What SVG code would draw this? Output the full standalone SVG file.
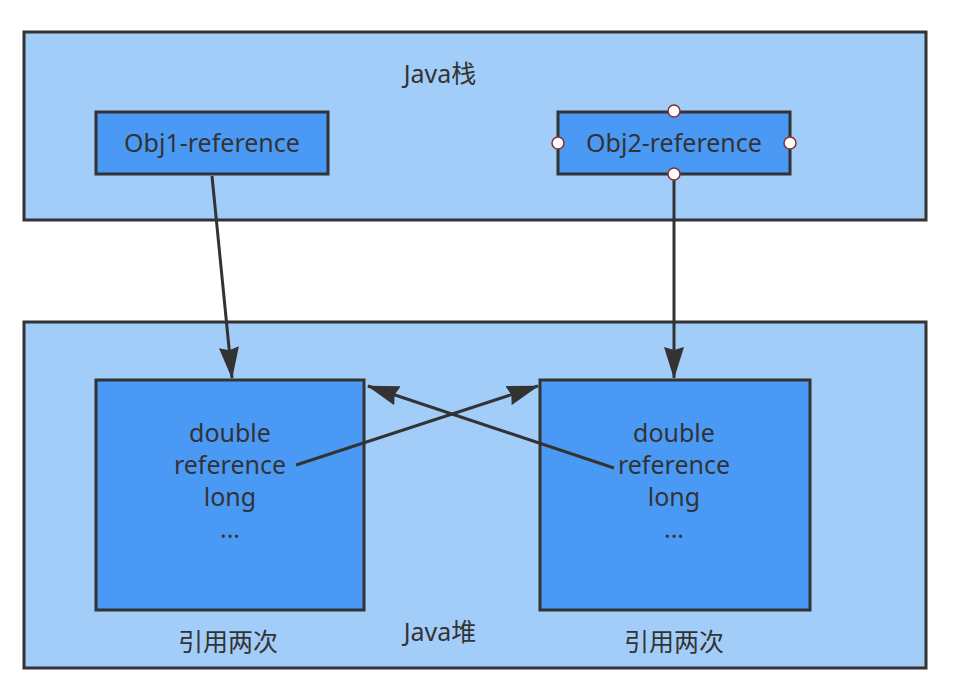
<svg xmlns="http://www.w3.org/2000/svg" width="954" height="692" viewBox="0 0 954 692">
<style>
.outer{fill:#a3cdf9;stroke:#333;stroke-width:3}
.inner{fill:#4a9af5;stroke:#333;stroke-width:3}
.t{font-family:"Noto Sans","Noto Sans CJK SC",sans-serif;font-size:25px;fill:#333;text-anchor:middle}
.c{stroke:#333;stroke-width:3;fill:none;marker-end:url(#ah)}
.pt{fill:#fff;stroke:#8b2e2e;stroke-width:1.5}
</style>
<defs>
<marker id="ah" viewBox="0 0 32 20" refX="31" refY="10" markerWidth="32" markerHeight="20" orient="auto" markerUnits="userSpaceOnUse">
<path d="M0,0 L32,10 L0,20 L3,10 z" fill="#333"/>
</marker>
</defs>
<g id="stack">
<rect class="outer" x="24" y="32" width="902" height="188"/>
<text class="t" x="440" y="83">Java栈</text>
</g>
<g id="heap">
<rect class="outer" x="24" y="322" width="902" height="346"/>
<text class="t" x="440" y="641">Java堆</text>
</g>
<g id="obj1ref">
<rect class="inner" x="96" y="112" width="232" height="62"/>
<text class="t" x="212" y="152">Obj1-reference</text>
</g>
<g id="obj2ref">
<rect class="inner" x="558" y="112" width="232" height="62"/>
<text class="t" x="674" y="152">Obj2-reference</text>
</g>
<g id="obj1">
<rect class="inner" x="96" y="380" width="268" height="230"/>
<text class="t" x="230" y="442">double</text>
<text class="t" x="230" y="474">reference</text>
<text class="t" x="230" y="506">long</text>
<text class="t" x="230" y="538">...</text>
<text class="t" x="228" y="651">引用两次</text>
</g>
<g id="obj2">
<rect class="inner" x="540" y="380" width="270" height="230"/>
<text class="t" x="674" y="442">double</text>
<text class="t" x="674" y="474">reference</text>
<text class="t" x="674" y="506">long</text>
<text class="t" x="674" y="538">...</text>
<text class="t" x="674" y="651">引用两次</text>
</g>
<g id="connectors">
<path class="c" d="M212,176 L232,378"/>
<path class="c" d="M674,175 L674,378"/>
<path class="c" d="M296,465 L538,386"/>
<path class="c" d="M614,468 L368,386"/>
</g>
<g id="handles">
<circle class="pt" cx="674" cy="111" r="6"/>
<circle class="pt" cx="558" cy="143" r="6"/>
<circle class="pt" cx="790" cy="143" r="6"/>
<circle class="pt" cx="674" cy="174" r="6"/>
</g>
</svg>
